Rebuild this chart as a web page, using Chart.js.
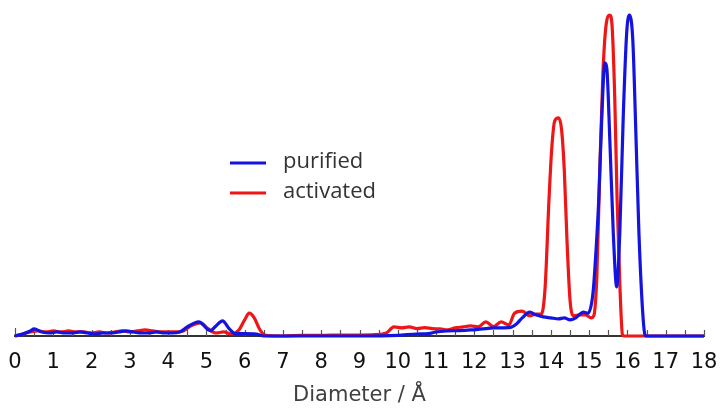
<!DOCTYPE html>
<html>
<head>
<meta charset="utf-8">
<script src="https://cdn.jsdelivr.net/npm/chart.js@4"></script>
<style>
    html, body { margin: 0; padding: 0; background: #fff; }
    #wrap { width: 724px; height: 408px; }
</style>
</head>
<body>
<div id="wrap"><canvas id="poreChart" width="724" height="408"></canvas></div>
<script>
// pore size distribution (intensity normalised, 1 = plot height)
const purifiedX = [0, 0.2, 0.4, 0.5, 0.7, 0.9, 1.1, 1.3, 1.5, 1.7, 1.9, 2.1, 2.3, 2.5, 2.7, 2.9, 3.1, 3.3, 3.5, 3.7, 3.9, 4.1, 4.3,
    4.5, 4.8, 5.1, 5.25, 5.42, 5.6, 5.75, 6.0, 6.3, 6.5, 9.0, 10.0, 10.5, 10.8, 11.0, 11.3, 11.6, 11.9, 12.2, 12.5, 12.9,
    13.1, 13.25, 13.45, 13.6, 13.8, 14.0, 14.2, 14.35, 14.5, 14.65, 14.85, 14.97, 15.1, 15.18, 15.25, 15.33, 15.41, 15.46,
    15.54, 15.63, 15.72, 15.8, 15.89, 15.98, 16.05, 16.14, 16.22, 16.3, 16.4, 16.46, 16.5, 18];
const purifiedY = [0, 0.006, 0.015, 0.021, 0.012, 0.009, 0.012, 0.009, 0.009, 0.012, 0.009, 0.006, 0.009, 0.009, 0.012, 0.015, 0.012, 0.009, 0.009, 0.012, 0.009, 0.009, 0.012,
    0.027, 0.042, 0.016, 0.030, 0.045, 0.021, 0.007, 0.007, 0.006, 0, 0, 0.002, 0.006, 0.007, 0.012, 0.015, 0.016, 0.018, 0.021, 0.024, 0.025,
    0.036, 0.054, 0.071, 0.063, 0.057, 0.054, 0.051, 0.054, 0.048, 0.054, 0.071, 0.068, 0.128, 0.256, 0.405, 0.652, 0.813, 0.798,
    0.583, 0.307, 0.146, 0.307, 0.652, 0.902, 0.955, 0.881, 0.604, 0.307, 0.068, 0.003, 0, 0];

const activatedX = [0, 0.2, 0.4, 0.6, 0.8, 1.0, 1.2, 1.4, 1.6, 1.8, 2.0, 2.2, 2.4, 2.6, 2.8, 3.0, 3.2, 3.4, 3.6, 3.8, 4.0, 4.2, 4.4,
    4.6, 4.85, 5.05, 5.25, 5.45, 5.65, 5.85, 6.0, 6.12, 6.25, 6.4, 6.55, 7.0, 7.5, 8.0, 8.5, 9.0, 9.4, 9.7, 9.9, 10.1, 10.3,
    10.5, 10.7, 10.9, 11.1, 11.3, 11.5, 11.7, 11.9, 12.1, 12.3, 12.5, 12.7, 12.9, 13.05, 13.25, 13.45, 13.6, 13.75, 13.85,
    13.95, 14.02, 14.1, 14.2, 14.28, 14.35, 14.42, 14.5, 14.6, 14.75, 14.9, 15.05, 15.12, 15.2, 15.28, 15.36, 15.45, 15.54,
    15.6, 15.67, 15.73, 15.8, 15.87, 15.9, 18];
const activatedY = [0, 0.006, 0.012, 0.015, 0.012, 0.015, 0.012, 0.015, 0.012, 0.012, 0.009, 0.012, 0.009, 0.012, 0.015, 0.012, 0.015, 0.018, 0.015, 0.012, 0.012, 0.012, 0.015,
    0.030, 0.039, 0.021, 0.009, 0.012, 0.006, 0.018, 0.048, 0.068, 0.054, 0.018, 0.002, 0, 0.002, 0.002, 0.003, 0.003, 0.004, 0.009, 0.027, 0.024, 0.027,
    0.022, 0.025, 0.022, 0.021, 0.018, 0.024, 0.027, 0.030, 0.027, 0.042, 0.028, 0.042, 0.033, 0.068, 0.074, 0.060, 0.065, 0.065, 0.146,
    0.405, 0.554, 0.640, 0.649, 0.613, 0.494, 0.286, 0.107, 0.060, 0.063, 0.063, 0.054, 0.060, 0.176, 0.503, 0.783, 0.932, 0.955,
    0.920, 0.702, 0.405, 0.158, 0.003, 0, 0];

const seriesNames = ["purified", "activated"];
const seriesColors = ["rgb(20, 20, 225)", "rgb(238, 22, 22)"];

// pair the x and y lists into points
function toPoints(xs, ys) {
    return xs.map((x, i) => ({ x: x, y: ys[i] }));
}

// small upward ticks every 0.5 on the x axis
const innerTicks = {
    id: "innerTicks",
    beforeDatasetsDraw(chart) {
        const ctx = chart.ctx;
        const xScale = chart.scales.x;
        const yBase = chart.chartArea.bottom;
        ctx.save();
        ctx.strokeStyle = "#555";
        ctx.lineWidth = 1.2;
        for (let v = 0; v <= 18; v += 0.5) {
            const px = Math.round(xScale.getPixelForValue(v)) + 0.5;
            ctx.beginPath();
            ctx.moveTo(px, yBase);
            ctx.lineTo(px, yBase - (v === 0 ? 8 : 6));
            ctx.stroke();
        }
        ctx.restore();
    }
};

// legend in the middle of the plot
const floatingLegend = {
    id: "floatingLegend",
    afterDatasetsDraw(chart) {
        const ctx = chart.ctx;
        ctx.save();
        ctx.font = "22px 'Open Sans'";
        ctx.textBaseline = "middle";
        chart.data.datasets.forEach((ds, i) => {
            const y = 163 + i * 30;
            ctx.strokeStyle = ds.borderColor;
            ctx.lineWidth = 3;
            ctx.beginPath();
            ctx.moveTo(230, y);
            ctx.lineTo(266, y);
            ctx.stroke();
            ctx.fillStyle = "#333";
            ctx.fillText(ds.label, 283, y - 1);
        });
        ctx.restore();
    }
};

const ctx = document.getElementById("poreChart").getContext("2d");

new Chart(ctx, {
    type: "line",
    data: {
        datasets: [
            {
                label: seriesNames[0],
                data: toPoints(purifiedX, purifiedY),
                borderColor: seriesColors[0],
                borderWidth: 3.2,
                pointRadius: 0,
                cubicInterpolationMode: "monotone",
                fill: false,
                clip: false
            },
            {
                label: seriesNames[1],
                data: toPoints(activatedX, activatedY),
                borderColor: seriesColors[1],
                borderWidth: 3.2,
                pointRadius: 0,
                cubicInterpolationMode: "monotone",
                fill: false,
                clip: false
            }
        ]
    },
    options: {
        responsive: false,
        animation: false,
        layout: { padding: { left: 15, right: 20, top: 0, bottom: 0 } },
        plugins: {
            legend: { display: false },
            tooltip: { enabled: false }
        },
        scales: {
            x: {
                type: "linear",
                min: 0,
                max: 18,
                afterFit: scale => {
                    scale.height = 72;
                    // let the layout padding alone decide the plot edges
                    scale.paddingLeft = 0;
                    scale.paddingRight = 0;
                },
                grid: { display: false, drawTicks: false },
                border: { display: true, color: "#333", width: 2 },
                ticks: {
                    stepSize: 1,
                    padding: 14,
                    color: "#111",
                    maxRotation: 0,
                    font: { family: "DejaVu Sans", size: 21 }
                },
                title: {
                    display: true,
                    text: "Diameter / Å",
                    color: "#404040",
                    padding: { top: 0, bottom: 0 },
                    font: { family: "DejaVu Sans", size: 21 }
                }
            },
            y: {
                display: false,
                min: 0,
                max: 1
            }
        }
    },
    plugins: [innerTicks, floatingLegend]
});
</script>
</body>
</html>
